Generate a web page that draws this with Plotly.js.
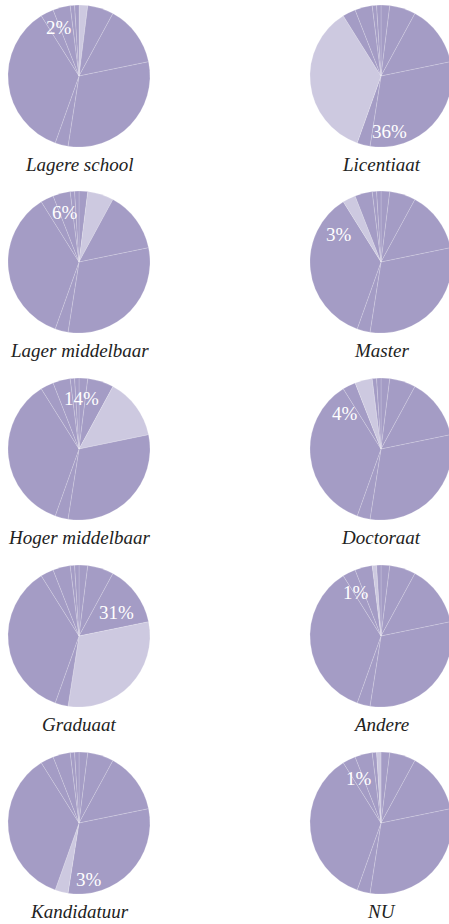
<!DOCTYPE html>
<html>
<head>
<meta charset="utf-8">
<script src="https://cdn.plot.ly/plotly-3.0.1.min.js"></script>
<style>
  html, body { margin: 0; padding: 0; background: #fff; overflow: hidden; }
  #chart { width: 460px; height: 924px; }
</style>
</head>
<body>
<div id="chart"></div>
<script>
// ---- data ----
const categories = ["Lagere school", "Lager middelbaar", "Hoger middelbaar", "Graduaat", "Kandidatuur",
                    "Licentiaat", "Master", "Doctoraat", "Andere", "NU"];
const shares = [2, 6, 14, 31, 3, 36, 3, 4, 1, 1];
const shareLabels = ["2%", "6%", "14%", "31%", "3%", "36%", "3%", "4%", "1%", "1%"];

// ---- layout / style (not data) ----
const W = 460, H = 924, R = 71;
const colX = [79, 381];
const rowY = [76, 262, 449, 636, 823];
const baseColor = "#a49cc5";
const hiColor = "#cdc9e0";
const serif = "'Liberation Serif', 'Times New Roman', serif";
// label offsets from pie centre (px)
const labelOffsets = [[-20, -48], [-14, -50], [2, -51], [38, -24], [10, 56],
                      [8, 55], [-42, -27], [-36, -36], [-25, -44], [-22, -45]];

const traces = [];
const annotations = [];
categories.forEach((cat, i) => {
  const col = Math.floor(i / 5), row = i % 5;
  const cx = colX[col], cy = rowY[row];
  const colors = categories.map((c, j) => j === i ? hiColor : baseColor);
  traces.push({
    type: "pie",
    labels: categories,
    values: shares,
    sort: false,
    direction: "clockwise",
    rotation: 0,
    textinfo: "none",
    hoverinfo: "label+percent",
    showlegend: false,
    marker: { colors: colors, line: { color: "rgba(255,255,255,0.35)", width: 0.5 } },
    domain: {
      x: [(cx - R) / W, (cx + R) / W],
      y: [1 - (cy + R) / H, 1 - (cy - R) / H]
    }
  });
  annotations.push({
    text: "<i>" + cat + "</i>", xref: "paper", yref: "paper",
    x: cx / W, y: 1 - (cy + 88) / H,
    xanchor: "center", yanchor: "middle", showarrow: false,
    font: { family: serif, size: 19, color: "#222222" }
  });
  annotations.push({
    text: shareLabels[i], xref: "paper", yref: "paper",
    x: (cx + labelOffsets[i][0]) / W, y: 1 - (cy + labelOffsets[i][1]) / H,
    xanchor: "center", yanchor: "middle", showarrow: false,
    font: { family: serif, size: 19, color: "#ffffff" }
  });
});

Plotly.newPlot("chart", traces, {
  width: W, height: H,
  margin: { l: 0, r: 0, t: 0, b: 0 },
  paper_bgcolor: "#ffffff",
  font: { family: serif },
  annotations: annotations
}, { displayModeBar: false, staticPlot: true });
</script>
</body>
</html>
